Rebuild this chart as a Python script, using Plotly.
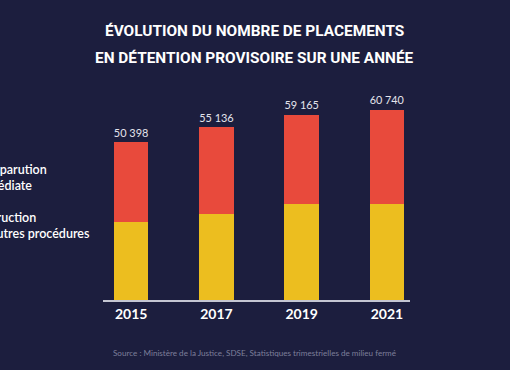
import plotly.graph_objects as go

years = ["2015", "2017", "2019", "2021"]
instruction = [25000, 27400, 30700, 30700]
totals = [50398, 55136, 59165, 60740]
comparution = [t - i for t, i in zip(totals, instruction)]
total_labels = [f"{t:,}".replace(",", " ") for t in totals]

title_lines = ["ÉVOLUTION DU NOMBRE DE PLACEMENTS", "EN DÉTENTION PROVISOIRE SUR UNE ANNÉE"]
legend_comparution = ["Comparution", "immédiate"]
legend_instruction = ["Instruction", "et autres procédures"]
source_text = "Source : Ministère de la Justice, SDSE, Statistiques trimestrielles de milieu fermé"

BG = "#1c1e3e"
RED = "#e84a3c"
YEL = "#ecbe1f"

W, H = 510, 370
ML, MR, MT, MB = 103, 100, 90, 70
PW = W - ML - MR
PH = H - MT - MB

def px_x(px):
    return (px - ML) / PW

def px_y(py):
    return (H - MB - py) / PH

fig = go.Figure()
fig.add_trace(go.Bar(x=years, y=instruction, marker=dict(color=YEL, line=dict(width=0)),
                     width=0.405, name="Instruction et autres procédures", hoverinfo="skip"))
fig.add_trace(go.Bar(x=years, y=comparution, marker=dict(color=RED, line=dict(width=0)),
                     width=0.405, name="Comparution immédiate", hoverinfo="skip",
                     text=total_labels, textposition="outside", cliponaxis=False,
                     textfont=dict(family="Lato", size=13, color="#e4e4ec")))

# legend labels on the left (cut by the left edge, as in the reference)
leg_font = dict(family="Lato", size=12.5, color="#ffffff", weight=600)
for lines, right_px, cy in [(legend_comparution, 49, 177.5), (legend_instruction, 91.5, 225)]:
    fig.add_annotation(xref="paper", yref="paper", x=px_x(right_px), y=px_y(cy),
                       text="<br>".join(lines), showarrow=False, xanchor="right", align="left",
                       yanchor="middle", font=leg_font)

# title (two lines)
title_font = dict(family="Roboto", size=15.4, color="#ffffff", weight="bold")
for txt, cy in zip(title_lines, [31, 58]):
    fig.add_annotation(xref="paper", yref="paper", x=px_x(254.5), y=px_y(cy), text=txt,
                       showarrow=False, xanchor="center", yanchor="middle", font=title_font)

# source
fig.add_annotation(xref="paper", yref="paper", x=px_x(254), y=px_y(353), text=source_text,
                   showarrow=False, xanchor="center", yanchor="middle",
                   font=dict(family="Lato", size=8.1, color="#7d7f9a"))

fig.update_layout(
    width=W, height=H,
    margin=dict(l=ML, r=MR, t=MT, b=MB, pad=0),
    paper_bgcolor=BG, plot_bgcolor=BG,
    barmode="stack", showlegend=False,
    xaxis=dict(type="category", range=[-0.33, 3.27], showgrid=False, zeroline=False,
               showline=True, linecolor="#c4c6d2", linewidth=2,
               ticks="", tickfont=dict(family="Lato", size=14, color="#ffffff", weight="bold"),
               fixedrange=True),
    yaxis=dict(range=[0, 67095], visible=False, showgrid=False, zeroline=False, fixedrange=True),
)

fig.write_html("out.html", config={"displayModeBar": False},
               post_script="document.body.style.margin='0';document.body.style.overflow='hidden';"
                           "document.body.style.background='" + BG + "';")
